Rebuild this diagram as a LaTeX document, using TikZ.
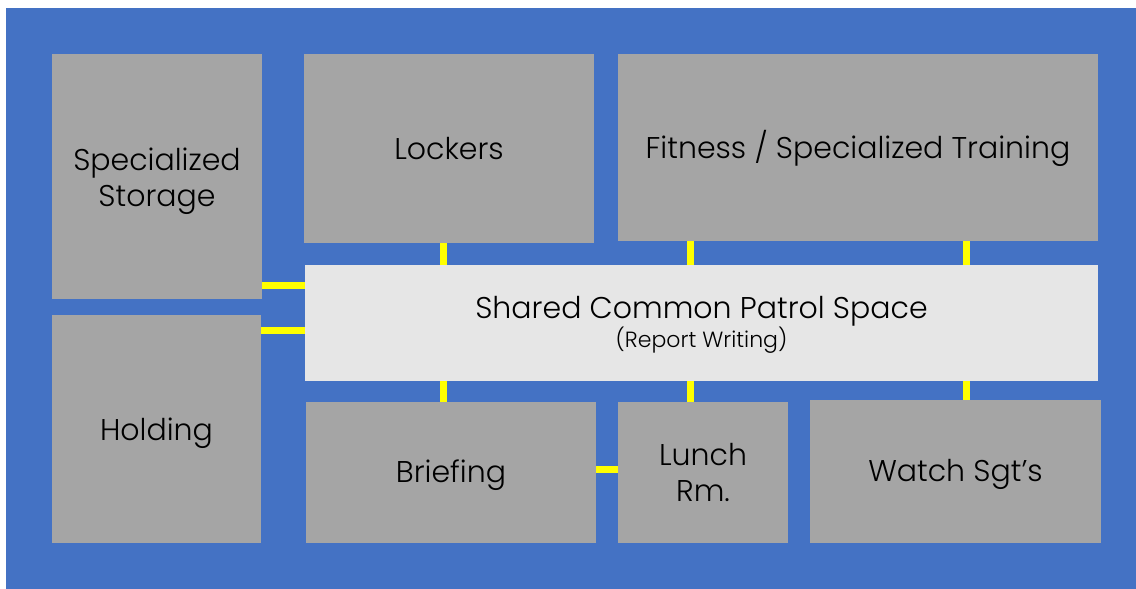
\documentclass[tikz,border=0pt]{standalone}
\usepackage{fontspec}
\setmainfont{Poppins Light}
\definecolor{floorblue}{HTML}{4472C4}
\definecolor{roomgray}{HTML}{A5A5A5}
\definecolor{sharedgray}{HTML}{E6E6E6}
\definecolor{linkyellow}{HTML}{FFFF00}
\begin{document}
\begin{tikzpicture}[x=1pt,y=-1pt,
  room/.style={fill=roomgray, draw=none, inner sep=0pt},
  shared/.style={room, fill=sharedgray},
  lbl/.style={inner sep=0pt, align=center, text=black,
    font=\fontsize{30}{36}\selectfont},
  link/.style={draw=linkyellow, line width=7pt}]
  % page and floor plate
  \fill[white] (0,0) rectangle (1136,589);
  \fill[floorblue] (6,8) rectangle (1136,589);

  % rooms (centre, size in px)
  \node[room, minimum width=210, minimum height=245] (storage) at (157,176.5) {};
  \node[room, minimum width=209, minimum height=228] (holding) at (156.5,429) {};
  \node[room, minimum width=290, minimum height=189] (lockers) at (449,148.5) {};
  \node[room, minimum width=480, minimum height=187] (fitness) at (858,147.5) {};
  \node[shared, minimum width=793, minimum height=116] (shared) at (701.5,323) {};
  \node[room, minimum width=290, minimum height=141] (briefing) at (451,472.5) {};
  \node[room, minimum width=170, minimum height=141] (lunch) at (703,472.5) {};
  \node[room, minimum width=291, minimum height=143] (watch) at (955.5,471.5) {};

  % room names
  \node[lbl] (storage-t) at ([yshift=-5pt]storage.center) {Specialized\\Storage};
  \node[lbl] (holding-t) at ([yshift=-4pt]holding.center) {Holding};
  \node[lbl] (lockers-t) at (lockers.center) {Lockers};
  \node[lbl] (fitness-t) at ([yshift=-1pt]fitness.center) {Fitness / Specialized Training};
  \node[lbl] (shared-t) at ([yshift=-2pt]shared.center)
    {Shared Common Patrol Space\\[-7pt]{\fontsize{22}{26}\selectfont (Report Writing)}};
  \node[lbl] (briefing-t) at ([yshift=-3pt]briefing.center) {Briefing};
  \node[lbl] (lunch-t) at (lunch.center) {Lunch\\Rm.};
  \node[lbl] (watch-t) at ([yshift=-3pt]watch.center) {Watch Sgt’s};

  % connector positions
  \coordinate (c1) at (443,0);
  \coordinate (c2) at (690,0);
  \coordinate (c3) at (966,0);
  \coordinate (r1) at (0,285);
  \coordinate (r2) at (0,330);
  \coordinate (r3) at (0,469);

  % links between rooms
  \draw[link] (lockers.south -| c1) -- (shared.north -| c1);
  \draw[link] (fitness.south -| c2) -- (shared.north -| c2);
  \draw[link] (fitness.south -| c3) -- (shared.north -| c3);
  \draw[link] (shared.south -| c1) -- (briefing.north -| c1);
  \draw[link] (shared.south -| c2) -- (lunch.north -| c2);
  \draw[link] (shared.south -| c3) -- (watch.north -| c3);
  \draw[link] (storage.east |- r1) -- (shared.west |- r1);
  \draw[link] (holding.east |- r2) -- (shared.west |- r2);
  \draw[link] (briefing.east |- r3) -- (lunch.west |- r3);
\end{tikzpicture}
\end{document}
